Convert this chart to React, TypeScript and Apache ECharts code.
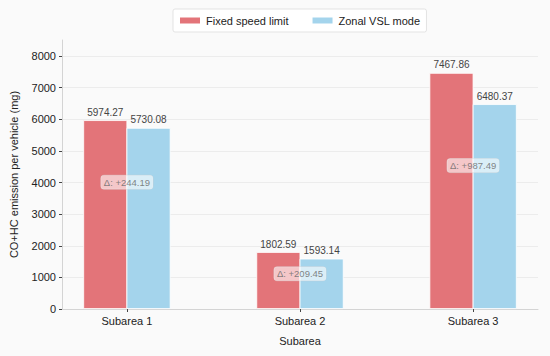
import React, { useEffect, useRef } from "react";
import * as echarts from "echarts";

const categories = ["Subarea 1", "Subarea 2", "Subarea 3"];
const fixedSpeed = [5974.27, 1802.59, 7467.86];
const zonalVSL = [5730.08, 1593.14, 6480.37];
const yTicks = [0, 1000, 2000, 3000, 4000, 5000, 6000, 7000, 8000];
const seriesNames = ["Fixed speed limit", "Zonal VSL mode"];

const BAR_OFFSET = 0.125;
const FONT = "'Liberation Sans', Arial, Helvetica, sans-serif";

export default function App() {
  const ref = useRef<HTMLDivElement>(null);
  useEffect(() => {
    document.body.style.margin = "0";
    const chart = echarts.init(ref.current!, null, { renderer: "svg" });
    const fixedData = fixedSpeed.map((v, i) => [i - BAR_OFFSET, v]);
    const zonalData = zonalVSL.map((v, i) => [i + BAR_OFFSET, v]);
    const deltaData = fixedSpeed.map((v, i) => ({
      value: [i, Math.min(v, zonalVSL[i]) * 0.7],
      delta: v - zonalVSL[i],
    }));
    chart.setOption({
      animation: false,
      backgroundColor: "#fafafa",
      textStyle: { fontFamily: FONT },
      legend: {
        data: seriesNames,
        left: 173,
        top: 9,
        itemWidth: 22,
        itemHeight: 8,
        itemGap: 22,
        padding: [6, 6, 6, 5],
        backgroundColor: "#ffffff",
        borderColor: "#e3e3e3",
        borderWidth: 1,
        borderRadius: 2,
        textStyle: { fontSize: 11, color: "#222", fontFamily: FONT },
        icon: "rect",
      },
      grid: { left: 61, right: 12, top: 40, bottom: 47, containLabel: false },
      xAxis: {
        type: "value",
        min: -0.375,
        max: 2.375,
        name: "Subarea",
        nameLocation: "middle",
        nameGap: 26,
        nameTextStyle: { fontSize: 11, color: "#222", fontFamily: FONT },
        axisLine: { show: true, onZero: false, lineStyle: { color: "#d4d4d4", width: 1 } },
        axisTick: {
          show: true,
          length: 3,
          lineStyle: { color: "#444" },
          customValues: [0, 1, 2],
        },
        axisLabel: {
          customValues: [0, 1, 2],
          formatter: (v: number) => categories[Math.round(v)] ?? "",
          fontSize: 11,
          color: "#222",
          margin: 6,
          fontFamily: FONT,
        },
        splitLine: { show: false },
      },
      yAxis: {
        type: "value",
        min: 0,
        max: 8510,
        name: "CO+HC emission per vehicle (mg)",
        nameLocation: "middle",
        nameGap: 43,
        nameTextStyle: { fontSize: 11, color: "#222", fontFamily: FONT },
        axisLine: { show: true, onZero: false, lineStyle: { color: "#d4d4d4", width: 1 } },
        axisTick: {
          show: true,
          length: 3,
          lineStyle: { color: "#444" },
          customValues: yTicks,
        },
        axisLabel: {
          customValues: yTicks,
          formatter: (v: number) => String(v),
          fontSize: 11,
          color: "#222",
          margin: 6,
          fontFamily: FONT,
        },
        splitLine: { show: true, lineStyle: { color: "#ececec", width: 1 } },
      },
      series: [
        {
          name: seriesNames[0],
          type: "bar",
          data: fixedData,
          barWidth: 44,
          barGap: "-100%",
          itemStyle: { color: "#e37479", borderColor: "#ffffff", borderWidth: 0.8 },
          label: {
            show: true,
            position: "top",
            distance: 3,
            fontSize: 10,
            color: "#444",
            fontFamily: FONT,
            formatter: (p: any) => p.value[1].toFixed(2),
          },
        },
        {
          name: seriesNames[1],
          type: "bar",
          data: zonalData,
          barWidth: 44,
          barGap: "-100%",
          itemStyle: { color: "#a4d4ec", borderColor: "#ffffff", borderWidth: 0.8 },
          label: {
            show: true,
            position: "top",
            distance: 3,
            fontSize: 10,
            color: "#444",
            fontFamily: FONT,
            formatter: (p: any) => p.value[1].toFixed(2),
          },
        },
        {
          name: "delta",
          type: "scatter",
          data: deltaData,
          symbolSize: 0,
          z: 5,
          label: {
            show: true,
            position: "inside",
            fontSize: 9.5,
            color: "#666",
            fontFamily: FONT,
            backgroundColor: "rgba(255,255,255,0.75)",
            borderColor: "rgba(210,210,210,0.6)",
            borderWidth: 0.5,
            borderRadius: 3,
            padding: [2, 3, 2, 3],
            formatter: (p: any) => "Δ: +" + p.data.delta.toFixed(2),
          },
        },
      ],
    });
    return () => chart.dispose();
  }, []);
  return <div ref={ref} style={{ width: 550, height: 356 }} />;
}
